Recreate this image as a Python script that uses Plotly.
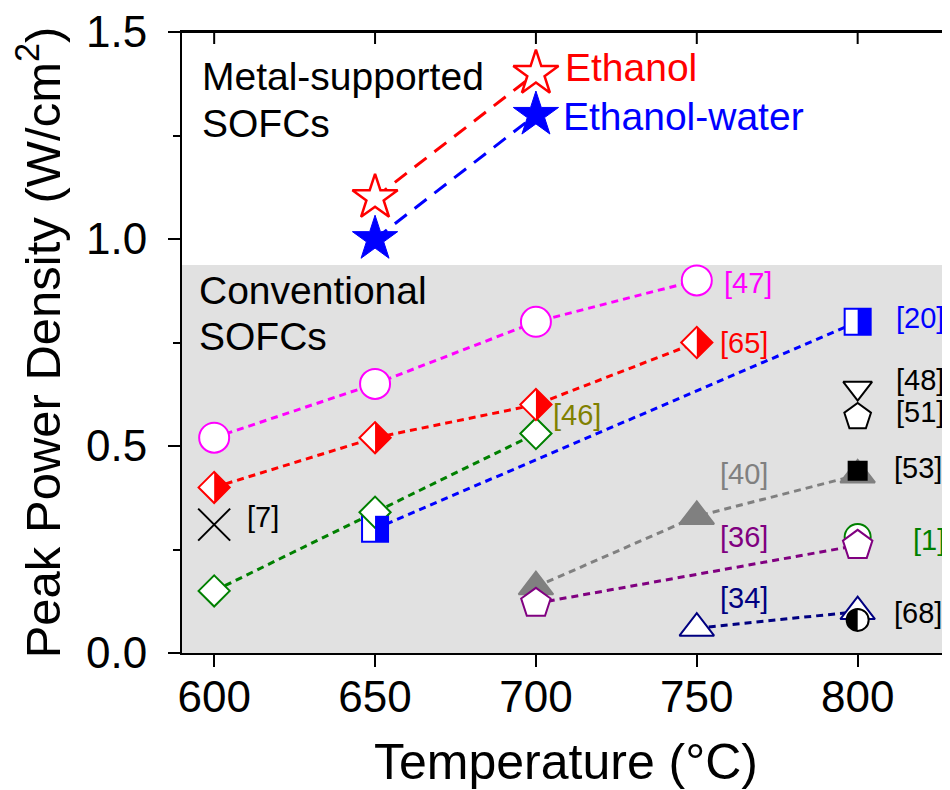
import plotly.graph_objects as go

# ---------------- data ----------------
ethanol_T = [650, 700]
ethanol_P = [1.10, 1.40]
ethanol_water_T = [650, 700]
ethanol_water_P = [1.00, 1.30]

ref47_T = [600, 650, 700, 750]
ref47_P = [0.52, 0.65, 0.80, 0.90]
ref65_T = [600, 650, 700, 750]
ref65_P = [0.40, 0.52, 0.60, 0.75]
ref46_T = [600, 650, 700]
ref46_P = [0.15, 0.34, 0.53]
ref20_T = [650, 800]
ref20_P = [0.30, 0.80]
ref7_T = [600]
ref7_P = [0.31]
ref48_T = [800]
ref48_P = [0.64]
ref51_T = [800]
ref51_P = [0.57]
ref40_T = [700, 750, 800]
ref40_P = [0.16, 0.33, 0.43]
ref53_T = [800]
ref53_P = [0.44]
ref1_T = [800]
ref1_P = [0.28]
ref36_T = [700, 800]
ref36_P = [0.12, 0.26]
ref34_T = [750, 800]
ref34_P = [0.06, 0.10]
ref68_T = [800]
ref68_P = [0.08]

x_ticks = [600, 650, 700, 750, 800]
y_ticks = [0.0, 0.5, 1.0, 1.5]
conventional_top = 0.937

FONT = "Arial, 'Liberation Sans', sans-serif"
xr = [590, 828.7]
yr = [0, 1.5]

fig = go.Figure()

# grey region for conventional SOFCs
fig.add_shape(type="rect", xref="x domain", yref="y", x0=0, x1=1, y0=0, y1=conventional_top,
              fillcolor="#e1e1e1", line=dict(width=0), layer="below")

DOT = "7px,5px"


def series(x, y, color, symbol, size, fill="white", line_color=None, dash=DOT, lw=3, mlw=2):
    mode = "lines+markers" if len(x) > 1 else "markers"
    fig.add_trace(go.Scatter(
        x=x, y=y, mode=mode, showlegend=False, hoverinfo="skip",
        line=dict(color=line_color or color, width=lw, dash=dash),
        marker=dict(symbol=symbol, size=size, color=fill, line=dict(color=color, width=mlw)),
    ))


# conventional SOFCs
series(ref47_T, ref47_P, "#ff00ff", "circle", 30)
series(ref20_T, ref20_P, "#0000ff", "square", 26)
series(ref46_T, ref46_P, "#008000", "diamond", 24)
series(ref65_T, ref65_P, "#ff0000", "diamond", 24)
series(ref7_T, ref7_P, "black", "x-thin-open", 32, fill="black", mlw=2)
series(ref48_T, ref48_P, "black", "triangle-down", 25)
series(ref51_T, ref51_P, "black", "pentagon", 28)
series(ref40_T, ref40_P, "#808080", "triangle-up", 30, fill="#808080")
series(ref53_T, ref53_P, "black", "square", 18, fill="black")
series(ref1_T, ref1_P, "#008000", "circle", 26)
series(ref36_T, ref36_P, "#800080", "pentagon", 31)
series(ref34_T, ref34_P, "#000080", "triangle-up", 30)
series(ref68_T, ref68_P, "black", "circle", 22)

# metal-supported SOFCs
series(ethanol_T, ethanol_P, "#ff0000", "star", 34, dash="15px,10px", mlw=2.5)
series(ethanol_water_T, ethanol_water_P, "#0000ff", "star", 34, fill="#0000ff",
       dash="15px,10px", mlw=1)


# half-filled markers (pixel-sized paths anchored on the data points)
def half(xs, ys, path, color):
    for xv, yv in zip(xs, ys):
        fig.add_shape(type="path", xref="x", yref="y", xsizemode="pixel", ysizemode="pixel",
                      xanchor=xv, yanchor=yv, path=path, fillcolor=color,
                      line=dict(width=0), layer="above")


rd = 15.6
half(ref65_T, ref65_P, f"M0,{rd} L{rd},0 L0,{-rd} Z", "#ff0000")
rs = 13
half(ref20_T, ref20_P, f"M0,{-rs} L{rs},{-rs} L{rs},{rs} L0,{rs} Z", "#0000ff")
rc = 11
k = 0.5523 * rc
half(ref68_T, ref68_P,
     f"M0,{-rc} C{-k},{-rc} {-rc},{-k} {-rc},0 C{-rc},{k} {-k},{rc} 0,{rc} Z", "black")

# ---------------- top frame with inward ticks, right inward ticks ----------------
fig.add_shape(type="line", xref="x domain", yref="y domain", x0=0, x1=1, y0=1, y1=1,
              line=dict(color="black", width=2), layer="above")
for xv in x_ticks:
    fig.add_shape(type="line", xref="x", yref="y", ysizemode="pixel", yanchor=yr[1],
                  x0=xv, x1=xv, y0=0, y1=-12, line=dict(color="black", width=2),
                  layer="above")
y_minor = [(a + b) / 2 for a, b in zip(y_ticks[:-1], y_ticks[1:])]
for yv, ln in [(v, 8) for v in y_ticks] + [(v, 5) for v in y_minor]:
    fig.add_shape(type="line", xref="x", yref="y", xsizemode="pixel", xanchor=xr[1],
                  x0=0, x1=-ln, y0=yv, y1=yv, line=dict(color="black", width=2),
                  layer="above")


# ---------------- annotations ----------------
def note(x, y, text, color, size):
    fig.add_annotation(x=x, y=y, xref="x", yref="y", text=text, showarrow=False,
                       xanchor="left", yanchor="middle",
                       font=dict(family=FONT, size=size, color=color))


REF = 29
note(757.7, 0.894, "[47]", "#ff00ff", REF)
note(756.5, 0.749, "[65]", "#ff0000", REF)
note(704.6, 0.575, "[46]", "#808000", REF)
note(811.4, 0.809, "[20]", "#0000ff", REF)
note(811.4, 0.659, "[48]", "black", REF)
note(811.4, 0.582, "[51]", "black", REF)
note(810.8, 0.447, "[53]", "black", REF)
note(756.5, 0.432, "[40]", "#808080", REF)
note(756.5, 0.280, "[36]", "#800080", REF)
note(816.7, 0.273, "[1]", "#008000", REF)
note(756.5, 0.133, "[34]", "#000080", REF)
note(810.8, 0.097, "[68]", "black", REF)
note(609.6, 0.329, "[7]", "black", REF)

BIG = 39
note(595.6, 1.3925, "Metal-supported", "black", BIG)
note(595.6, 1.279, "SOFCs", "black", BIG)
note(594.7, 0.8756, "Conventional", "black", BIG)
note(594.7, 0.7645, "SOFCs", "black", BIG)
note(708.3, 1.414, "Ethanol", "#ff0000", BIG)
note(707.7, 1.297, "Ethanol-water", "#0000ff", BIG)

# ---------------- layout ----------------
fig.update_layout(
    width=942, height=782,
    margin=dict(l=174, r=0, t=24, b=137, pad=0),
    paper_bgcolor="white", plot_bgcolor="white",
    font=dict(family=FONT, color="black"),
    xaxis=dict(range=xr, tickvals=x_ticks, showgrid=False, zeroline=False, automargin=False,
               showline=True, mirror=True, linecolor="black", linewidth=2,
               ticklabeloverflow="allow",
               ticks="outside", ticklen=12, tickwidth=2, tickcolor="black",
               tickfont=dict(size=44), ticklabelstandoff=-8,
               title=dict(text="Temperature (°C)", font=dict(size=50), standoff=24)),
    yaxis=dict(range=yr, tickvals=y_ticks, tickformat=".1f", showgrid=False, zeroline=False,
               automargin=False, ticklabeloverflow="allow",
               showline=True, linecolor="black", linewidth=2,
               ticks="outside", ticklen=12, tickwidth=2, tickcolor="black",
               tickfont=dict(size=44), ticklabelstandoff=12,
               minor=dict(ticks="outside", ticklen=7, tickwidth=2, tickcolor="black",
                          dtick=0.25, tick0=0, showgrid=False),
               title=dict(text="Peak Power Density (W/cm<sup>2</sup>)", font=dict(size=49),
                          standoff=12)),
)

fig.write_html("out.html")
